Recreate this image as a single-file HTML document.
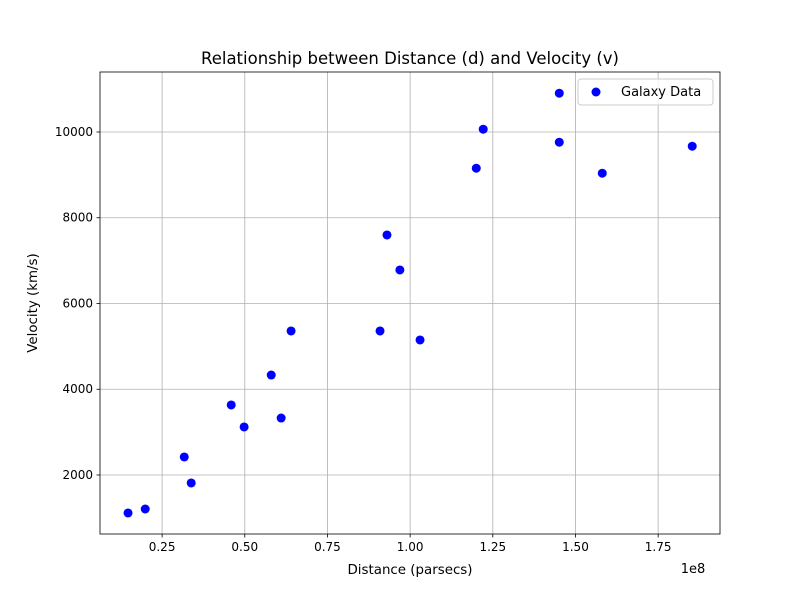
<!DOCTYPE html>
<html><head><meta charset="utf-8"><style>
body{margin:0;background:#fff;font-family:"Liberation Sans","DejaVu Sans",sans-serif}
svg text{font-family:"DejaVu Sans","Liberation Sans",sans-serif;fill:#000}
</style></head><body>
<svg id="chart" width="800" height="600"></svg>
<script>
const xValues=[0.147,0.199,0.317,0.338,0.459,0.498,0.580,0.610,0.640,0.909,0.930,0.969,1.030,1.200,1.221,1.451,1.451,1.581,1.853];
const yValues=[1114,1207,2420,1814,3633,3120,4332,3329,5359,5359,7598,6782,5149,9155,10064,10904,9761,9038,9668];
const xTicks=[0.25,0.5,0.75,1.0,1.25,1.5,1.75];
const xTickLabels=["0.25","0.50","0.75","1.00","1.25","1.50","1.75"];
const yTicks=[2000,4000,6000,8000,10000];
const yTickLabels=["2000","4000","6000","8000","10000"];
const L=100,R=720,T=72,B=534;
const xMin=0.0622,xMax=1.937,yMin=624,yMax=11399;
const sx=v=>L+(v-xMin)/(xMax-xMin)*(R-L);
const sy=v=>B-(v-yMin)/(yMax-yMin)*(B-T);
const svg=document.getElementById('chart');
const NS='http://www.w3.org/2000/svg';
function mk(tag,attrs,parent){const e=document.createElementNS(NS,tag);for(const k in attrs)e.setAttribute(k,attrs[k]);(parent||svg).appendChild(e);return e;}
xTicks.forEach((t,i)=>{const x=sx(t);
 const g=mk('line',{x1:x,x2:x,y1:T,y2:B,stroke:'#b0b0b0','stroke-width':0.8});
 
 
 mk('line',{x1:x,x2:x,y1:B,y2:B+3.5,stroke:'#000','stroke-width':0.8});
 const tx=mk('text',{x:x,y:B+17,'text-anchor':'middle','font-size':12});tx.textContent=xTickLabels[i];
 
 
});
yTicks.forEach((t,i)=>{const y=sy(t);
 const g=mk('line',{x1:L,x2:R,y1:y,y2:y,stroke:'#b0b0b0','stroke-width':0.8});
 
 
 mk('line',{x1:L-3.5,x2:L,y1:y,y2:y,stroke:'#000','stroke-width':0.8});
 const tx=mk('text',{x:L-7,y:y+4,'text-anchor':'end','font-size':12});tx.textContent=yTickLabels[i];
 
 
});
xValues.forEach((v,i)=>{const c=mk('circle',{cx:sx(v),cy:sy(yValues[i]),r:4.5,fill:'#0000ff'});
 
 
});
const fr=mk('rect',{x:L,y:T,width:R-L,height:B-T,fill:'none',stroke:'#000','stroke-width':0.8});


</script>
<svg width="800" height="600" style="position:absolute;left:0;top:0">
<text x="410" y="64" text-anchor="middle" font-size="16.5">Relationship between Distance (d) and Velocity (v)</text>
<text x="410" y="574" text-anchor="middle" font-size="13.4">Distance (parsecs)</text>
<text x="693" y="573" text-anchor="middle" font-size="13">1e8</text>
<text x="37" y="303" text-anchor="middle" font-size="13.4" transform="rotate(-90 37 303)">Velocity (km/s)</text>
<g>
<rect x="578" y="79" width="135" height="26" rx="3" fill="#fff" fill-opacity="0.8" stroke="#ccc"/>
<circle cx="596" cy="92" r="4.5" fill="#0000ff"/>
<text x="621" y="96" font-size="13">Galaxy Data</text>
</g>
</svg>
</body></html>
